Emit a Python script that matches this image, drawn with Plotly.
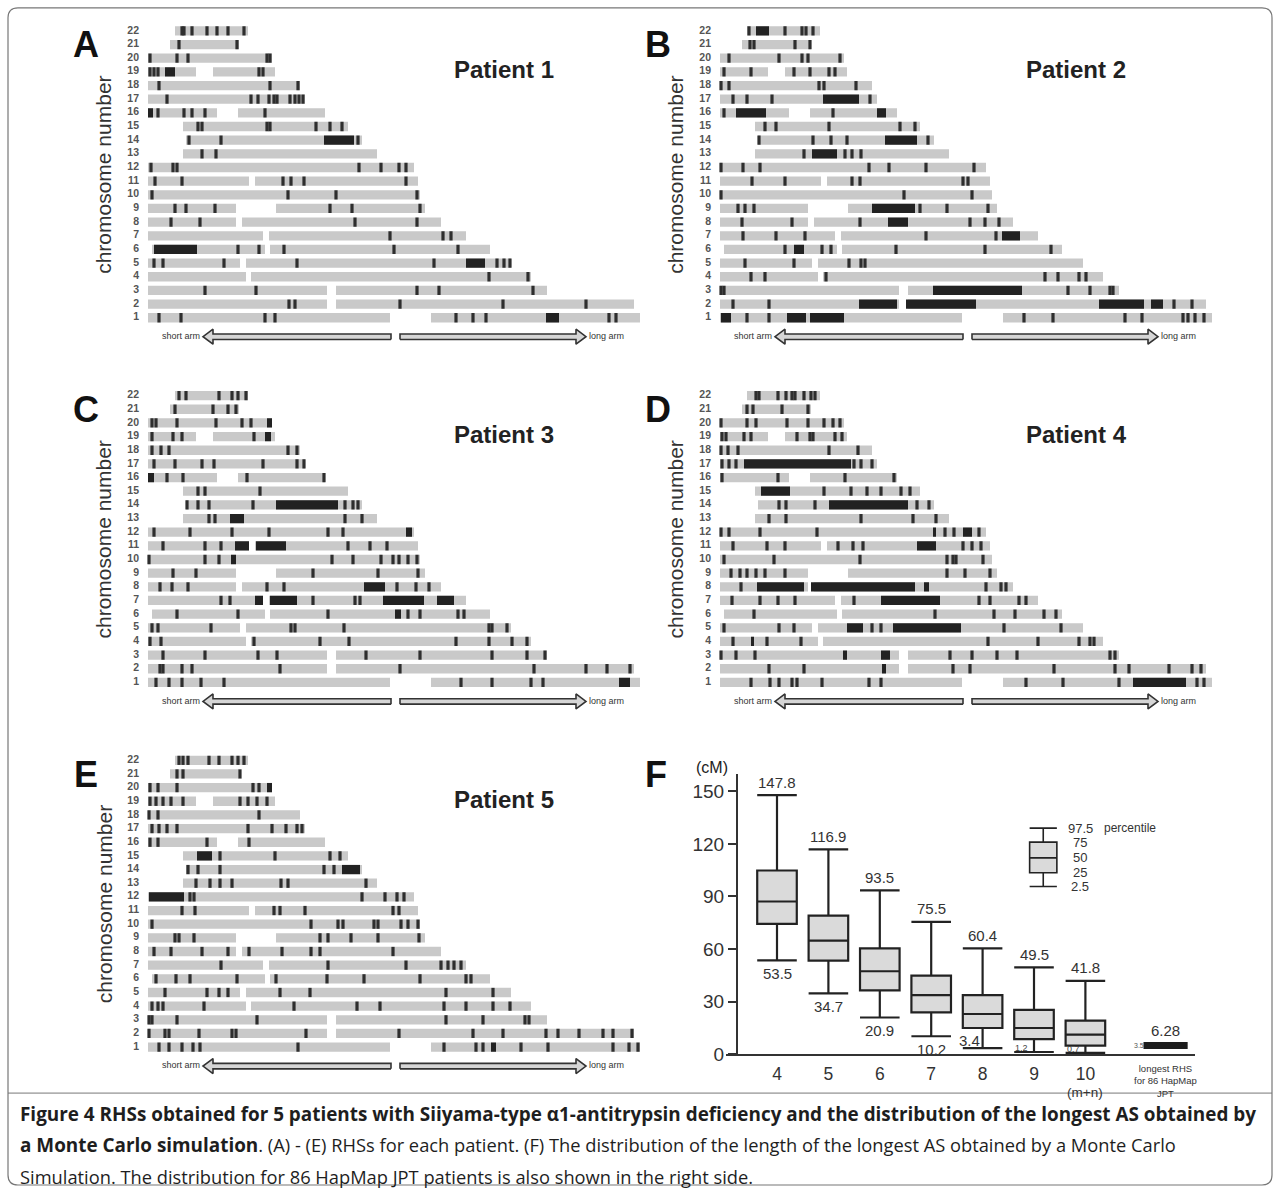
import plotly.graph_objects as go

W, H = 1280, 1197

# ---------------- chromosome map data (map units) ----------------
CHROMS = list(range(1, 23))
CHR_SEGMENTS = {
    1: [(0, 242), (283, 492)], 2: [(0, 179), (188, 486)], 3: [(0, 179), (188, 399)],
    4: [(0, 98), (103, 383)], 5: [(0, 92), (98, 363)], 6: [(4, 117), (122, 342)],
    7: [(0, 115), (121, 318)], 8: [(0, 88), (94, 293)], 9: [(0, 88), (128, 277)],
    10: [(0, 272)], 11: [(0, 101), (107, 270)], 12: [(0, 266)], 13: [(35, 229)],
    14: [(38, 214)], 15: [(35, 200)], 16: [(0, 69), (90, 177)], 17: [(0, 157)],
    18: [(0, 152)], 19: [(0, 48), (65, 127)], 20: [(0, 124)], 21: [(22, 91)],
    22: [(27, 100)],
}

P1_TICKS = {
    22: [34, 36, 44, 59, 69, 80, 96], 21: [31, 89], 20: [2, 29, 40, 119, 122],
    19: [2, 6, 10, 111, 115], 18: [11, 122, 150],
    17: [19, 103, 110, 121, 126, 129, 142, 147, 151, 155], 16: [10, 36, 44, 57, 117],
    15: [50, 54, 119, 122, 168, 182, 194], 14: [41, 73, 210], 13: [54, 68],
    12: [3, 25, 29, 211, 233, 251, 258], 11: [7, 34, 135, 143, 156, 258],
    10: [4, 140, 188, 269], 9: [27, 38, 67, 182, 204, 272], 8: [23, 52, 207, 269],
    7: [242, 295, 303], 6: [90, 111, 136, 246, 310], 5: [6, 15, 76, 149, 286, 349, 356, 362],
    4: [341, 380], 3: [57, 108, 269, 291, 385], 2: [141, 147, 252, 355, 438],
    1: [11, 33, 117, 127, 308, 325, 338, 461, 468],
}
P1_BLOCKS = [(19, 17, 27), (16, 0, 5), (14, 176, 206), (6, 6, 49), (5, 318, 337), (1, 398, 411)]

P2_TICKS = {
    22: [29, 65, 82, 86, 93], 21: [30, 34, 75, 90], 20: [9, 59, 82, 88, 120],
    19: [4, 31, 74, 90, 109, 115], 18: [1, 9, 99, 104, 136], 17: [13, 27, 52, 150],
    16: [4, 113], 15: [45, 56, 109, 180, 195], 14: [39, 93, 111, 127, 208],
    13: [84, 125, 132, 141], 12: [1, 23, 40, 149, 169, 206, 254],
    11: [32, 65, 132, 140, 243, 248], 10: [1, 184, 252], 9: [18, 25, 34, 200, 227, 268],
    8: [22, 72, 140, 250, 265, 279], 7: [23, 56, 85, 206, 276],
    6: [65, 102, 111, 176, 265, 331], 5: [25, 74, 129, 141, 145],
    4: [31, 45, 106, 325, 338, 359, 366], 3: [1, 4, 348, 370, 390, 393],
    2: [13, 49, 454, 472], 1: [27, 49, 304, 333, 405, 422, 463, 468, 475, 484],
}
P2_BLOCKS = [(22, 36, 49), (17, 103, 139), (16, 16, 46), (16, 157, 166), (14, 165, 197),
             (13, 92, 117), (9, 152, 195), (8, 168, 188), (7, 282, 300), (6, 74, 84),
             (3, 213, 302), (2, 139, 177), (2, 186, 256), (2, 379, 424), (2, 431, 443),
             (1, 1, 11), (1, 67, 86), (1, 90, 124)]

P3_TICKS = {
    22: [31, 38, 71, 84, 90, 98], 21: [27, 65, 80, 88], 20: [4, 8, 29, 68, 94, 103],
    19: [4, 25, 34, 106], 18: [4, 13, 21, 140, 149], 17: [6, 27, 54, 66, 115, 149, 156],
    16: [19, 35, 99, 176], 15: [50, 57, 112], 14: [39, 50, 61, 105, 197, 205, 210],
    13: [61, 67, 197, 214], 12: [6, 42, 84, 121, 180, 195], 11: [15, 57, 73, 200, 222, 239],
    10: [1, 57, 71, 184, 205, 233, 245, 251, 260, 269], 9: [25, 48, 165, 230, 270],
    8: [12, 24, 40, 119, 136, 249, 268, 281], 7: [73, 82, 165, 207, 212],
    6: [29, 90, 180, 260, 272, 310, 316], 5: [4, 10, 63, 143, 147, 196, 341, 344, 359],
    4: [2, 13, 106, 172, 201, 308, 341, 364, 379], 3: [15, 57, 110, 129, 218, 272, 344, 379, 397],
    2: [12, 15, 34, 44, 132, 252, 386, 438, 459, 482], 1: [8, 21, 34, 53, 76, 313, 344, 383, 395],
}
P3_BLOCKS = [(20, 119, 124), (19, 117, 123), (16, 0, 6), (14, 128, 190), (13, 82, 96),
             (12, 258, 264), (11, 87, 101), (11, 108, 138), (10, 83, 88), (8, 216, 237),
             (7, 107, 115), (7, 122, 149), (7, 235, 276), (7, 289, 306), (6, 247, 253),
             (1, 471, 482)]

P4_TICKS = {
    22: [36, 39, 58, 66, 72, 75, 84, 91, 95], 21: [27, 33, 62, 88],
    20: [1, 27, 36, 67, 88, 104, 113, 120], 19: [2, 6, 24, 31, 77, 90, 93, 115, 122],
    18: [1, 8, 18, 109, 138], 17: [2, 9, 16, 134, 141, 152], 16: [2, 58, 125, 174],
    15: [104, 131, 147, 161, 181, 190], 14: [59, 66, 95, 197, 209], 13: [49, 66, 141, 193, 216],
    12: [1, 9, 40, 97, 225, 234, 259], 11: [13, 47, 65, 118, 133, 143, 243, 252, 261],
    10: [4, 54, 140, 227, 233, 236, 263], 9: [11, 20, 27, 36, 45, 65, 227, 245, 270],
    8: [21, 266, 281, 286], 7: [12, 40, 58, 75, 134, 259, 270, 299, 306],
    6: [34, 215, 274, 295, 324, 336], 5: [4, 59, 74, 152, 161, 284, 341],
    4: [13, 47, 81, 268, 318, 359, 370, 374], 3: [1, 16, 35, 230, 252, 277, 297, 390, 395],
    2: [49, 84, 233, 250, 334, 395, 409, 449, 472, 481],
    1: [31, 50, 59, 72, 77, 102, 149, 161, 306, 343, 399, 477, 484],
}
P4_BLOCKS = [(17, 24, 131), (15, 41, 70), (14, 109, 188), (12, 213, 216), (12, 243, 252),
             (11, 197, 216), (8, 37, 84), (8, 91, 195), (8, 204, 209), (7, 161, 220),
             (5, 127, 143), (5, 173, 241), (4, 31, 34), (3, 123, 127), (3, 161, 170),
             (2, 162, 166), (1, 413, 466)]

P5_TICKS = {
    22: [31, 35, 40, 61, 71, 84, 90, 96], 21: [29, 35, 92], 20: [2, 10, 29, 105, 111],
    19: [2, 8, 15, 23, 35, 92, 100, 109, 119], 18: [1, 10, 111],
    17: [4, 11, 19, 29, 100, 124, 138, 149, 154], 16: [2, 10, 59, 101],
    15: [72, 127, 182, 192], 14: [40, 50, 72, 176, 186], 13: [48, 62, 72, 84, 133, 140, 218],
    12: [42, 46, 214, 237, 249, 256], 11: [34, 47, 126, 132, 157, 245, 251],
    10: [4, 163, 190, 195, 226, 230, 253, 260, 270], 9: [27, 31, 46, 172, 180, 203, 230, 271],
    8: [6, 23, 54, 80, 101, 134, 163, 172, 245], 7: [73, 180, 258, 293, 300, 306, 313],
    6: [8, 28, 42, 89, 128, 179, 216, 272, 318, 323], 5: [17, 59, 71, 80, 132, 162, 298, 345],
    4: [4, 10, 15, 56, 146, 209, 232, 296, 318, 345, 362], 3: [1, 4, 29, 109, 298, 335, 377, 381],
    2: [1, 17, 21, 51, 84, 88, 158, 251, 325, 355, 398, 410, 431, 455, 465, 484],
    1: [11, 21, 34, 45, 52, 150, 296, 328, 335, 373, 400, 465, 481, 490],
}
P5_BLOCKS = [(20, 119, 124), (15, 49, 64), (14, 194, 212), (12, 1, 36), (1, 343, 348)]

PATIENT_NAMES = ["Patient 1", "Patient 2", "Patient 3", "Patient 4", "Patient 5"]
PATIENT_TICKS = [P1_TICKS, P2_TICKS, P3_TICKS, P4_TICKS, P5_TICKS]
PATIENT_BLOCKS = [P1_BLOCKS, P2_BLOCKS, P3_BLOCKS, P4_BLOCKS, P5_BLOCKS]
PANEL_LETTERS = ["A", "B", "C", "D", "E"]

# arms arrows (map units)
SHORT_ARM_SPAN = (55, 243)
LONG_ARM_SPAN = (252, 438)

# ---------------- panel F data ----------------
F_CATS = [4, 5, 6, 7, 8, 9, 10]
F_LOWER = [53.5, 34.7, 20.9, 10.2, 3.4, 1.2, 0.7]
F_Q1 = [74.3, 53.4, 36.4, 23.8, 14.9, 8.6, 4.8]
F_MED = [87.1, 64.8, 47.3, 33.7, 22.9, 14.9, 11.1]
F_Q3 = [104.8, 79.1, 60.4, 44.8, 33.7, 25.3, 19.1]
F_UPPER = [147.8, 116.9, 93.5, 75.5, 60.4, 49.5, 41.8]
HAPMAP_X = 11.56
HAPMAP_STATS = [3.5, 3.5, 5.0, 6.28, 6.28]  # lower, q1, median, q3, upper
LEGEND_X = 9.18
LEGEND_STATS = [95.7, 103.5, 112.0, 121.0, 129.0]
LEGEND_LABELS = ["2.5", "25", "50", "75", "97.5"]
F_YTICKS = [0, 30, 60, 90, 120, 150]

# ---------------- layout helpers ----------------
SY = 1197 / 1187.0   # vertical calibration of measured pixel positions


def Y(p):
    return p * SY


PANEL_ORIGIN = [(148, Y(318)), (720, Y(318)), (148, Y(683)), (720, Y(683)), (148, Y(1048))]
ROW_PX = 13.67 * SY
X_LEFT, X_RIGHT = -55, 515
Y_LOW, Y_HIGH = -1.2, 23.0
TICK_W = 3.2
BAR_H = 0.68
ARROW_C = -0.39
GRAY = "#c9c9c9"
DARK = "#222222"


def fx(p):
    return p / W


def fy(p):
    return 1 - p / H


def paper_note(xp, yp, text, font, **kw):
    d = dict(x=fx(xp), y=fy(yp), xref="paper", yref="paper", text=text, showarrow=False,
             xanchor="center", yanchor="middle", font=font)
    d.update(kw)
    return d


fig = go.Figure()
layout_axes = {}
annotations = []

for i in range(5):
    n = i + 1
    xa = "x" if n == 1 else f"x{n}"
    ya = "y" if n == 1 else f"y{n}"
    px0, py1 = PANEL_ORIGIN[i]
    bottom_px = py1 + (1 - Y_LOW) * ROW_PX
    top_px = bottom_px - (Y_HIGH - Y_LOW) * ROW_PX
    layout_axes["xaxis" if n == 1 else f"xaxis{n}"] = dict(
        domain=[fx(px0 + X_LEFT), fx(px0 + X_RIGHT)], range=[X_LEFT, X_RIGHT],
        visible=False, anchor=ya, fixedrange=True)
    layout_axes["yaxis" if n == 1 else f"yaxis{n}"] = dict(
        domain=[fy(bottom_px), fy(top_px)], range=[Y_LOW, Y_HIGH],
        visible=False, anchor=xa, fixedrange=True)

    # gray chromosome arms
    gy, gb, gl = [], [], []
    for c in CHROMS:
        for s, e in CHR_SEGMENTS[c]:
            gy.append(c); gb.append(s); gl.append(e - s)
    fig.add_trace(go.Bar(orientation="h", y=gy, base=gb, x=gl, width=BAR_H,
                         marker=dict(color=GRAY, line=dict(width=0)),
                         xaxis=xa, yaxis=ya, showlegend=False, hoverinfo="skip"))
    # thin marks
    ty, tb, tl = [], [], []
    for c, plist in PATIENT_TICKS[i].items():
        for p in plist:
            ty.append(c); tb.append(p - TICK_W / 2); tl.append(TICK_W)
    fig.add_trace(go.Bar(orientation="h", y=ty, base=tb, x=tl, width=BAR_H,
                         marker=dict(color="#2e2e2e", line=dict(width=0)),
                         xaxis=xa, yaxis=ya, showlegend=False, hoverinfo="skip"))
    # homozygous blocks
    by = [b[0] for b in PATIENT_BLOCKS[i]]
    bb = [b[1] for b in PATIENT_BLOCKS[i]]
    bl = [b[2] - b[1] for b in PATIENT_BLOCKS[i]]
    fig.add_trace(go.Bar(orientation="h", y=by, base=bb, x=bl, width=BAR_H,
                         marker=dict(color=DARK, line=dict(width=0)),
                         xaxis=xa, yaxis=ya, showlegend=False, hoverinfo="skip"))
    # row labels
    fig.add_trace(go.Scatter(x=[-9] * 22, y=CHROMS, mode="text", text=[f"<b>{c}</b>" for c in CHROMS],
                             textposition="middle left",
                             textfont=dict(family="Liberation Sans Narrow, Arial", size=10.5, color="#555"),
                             xaxis=xa, yaxis=ya, showlegend=False, hoverinfo="skip"))
    # arrows
    h, Hh, hl = 0.2, 0.55, 10
    t0, t1 = SHORT_ARM_SPAN
    fig.add_trace(go.Scatter(
        x=[t1, t0 + hl, t0 + hl, t0, t0 + hl, t0 + hl, t1, t1],
        y=[ARROW_C - h, ARROW_C - h, ARROW_C - Hh, ARROW_C, ARROW_C + Hh, ARROW_C + h, ARROW_C + h, ARROW_C - h],
        mode="lines", fill="toself", fillcolor="#d6d6d6", line=dict(color="#333", width=1.6),
        xaxis=xa, yaxis=ya, showlegend=False, hoverinfo="skip"))
    l0, l1 = LONG_ARM_SPAN
    fig.add_trace(go.Scatter(
        x=[l0, l1 - hl, l1 - hl, l1, l1 - hl, l1 - hl, l0, l0],
        y=[ARROW_C - h, ARROW_C - h, ARROW_C - Hh, ARROW_C, ARROW_C + Hh, ARROW_C + h, ARROW_C + h, ARROW_C - h],
        mode="lines", fill="toself", fillcolor="#d6d6d6", line=dict(color="#333", width=1.6),
        xaxis=xa, yaxis=ya, showlegend=False, hoverinfo="skip"))
    fig.add_trace(go.Scatter(x=[t0 - 3, l1 + 3], y=[ARROW_C, ARROW_C], mode="text",
                             text=["short arm", "long arm"], textposition=["middle left", "middle right"],
                             textfont=dict(family="Liberation Sans Narrow, Arial", size=9, color="#333"),
                             xaxis=xa, yaxis=ya, showlegend=False, hoverinfo="skip"))

    # panel letter, patient title, y title
    annotations.append(paper_note(px0 - 62, py1 - Y(273), f"<b>{PANEL_LETTERS[i]}</b>",
                                  dict(family="Arial", size=36, color="#111")))
    annotations.append(paper_note(px0 + 356, py1 - Y(248), f"<b>{PATIENT_NAMES[i]}</b>",
                                  dict(family="Arial", size=24, color="#222")))
    annotations.append(paper_note(px0 - 44, py1 - Y(143), "chromosome number",
                                  dict(family="Arial", size=21, color="#333"), textangle=-90))

# ---------------- panel F ----------------
F_LEFT_PX, F_RIGHT_PX = 726, 1195
F_ZERO_PX = Y(1055)
F_PX_PER_UNIT = (Y(1055) - Y(792)) / 150.0
F_TOP_PX = F_ZERO_PX - 160 * F_PX_PER_UNIT
X4_PX, XUNIT_PX = 777, 51.4
f_xr = [4 - (X4_PX - F_LEFT_PX) / XUNIT_PX, 4 + (F_RIGHT_PX - X4_PX) / XUNIT_PX]
layout_axes["xaxis6"] = dict(domain=[fx(F_LEFT_PX), fx(F_RIGHT_PX)], range=f_xr, anchor="y6",
                             showline=True, linecolor="#333", linewidth=2, showgrid=False,
                             zeroline=False, tickvals=F_CATS, ticktext=[str(c) for c in F_CATS],
                             ticks="", ticklabelstandoff=3,
                             tickfont=dict(family="Arial", size=17.5, color="#333"), fixedrange=True)
layout_axes["yaxis6"] = dict(domain=[fy(F_ZERO_PX), fy(F_TOP_PX)], range=[0, 160], anchor="free",
                             position=fx(737),
                             showline=True, linecolor="#333", linewidth=2, showgrid=False,
                             zeroline=False, tickvals=F_YTICKS, ticks="outside", ticklen=8,
                             tickwidth=2, tickcolor="#333",
                             tickfont=dict(family="Arial", size=19, color="#333"), fixedrange=True)

box_line = dict(color="#222", width=2.2)
fig.add_trace(go.Box(x=F_CATS, q1=F_Q1, median=F_MED, q3=F_Q3, lowerfence=F_LOWER,
                     upperfence=F_UPPER, width=0.77, whiskerwidth=1, fillcolor="#dadada",
                     line=box_line, boxpoints=False, xaxis="x6", yaxis="y6", showlegend=False,
                     hoverinfo="skip"))
fig.add_trace(go.Box(x=[HAPMAP_X], lowerfence=[HAPMAP_STATS[0]], q1=[HAPMAP_STATS[1]],
                     median=[HAPMAP_STATS[2]], q3=[HAPMAP_STATS[3]], upperfence=[HAPMAP_STATS[4]],
                     width=0.82, whiskerwidth=1, fillcolor="#1c1c1c", line=dict(color="#1c1c1c", width=2),
                     boxpoints=False, xaxis="x6", yaxis="y6", showlegend=False, hoverinfo="skip"))
fig.add_trace(go.Box(x=[LEGEND_X], lowerfence=[LEGEND_STATS[0]], q1=[LEGEND_STATS[1]],
                     median=[LEGEND_STATS[2]], q3=[LEGEND_STATS[3]], upperfence=[LEGEND_STATS[4]],
                     width=0.53, whiskerwidth=1, fillcolor="#dadada", line=dict(color="#222", width=1.6),
                     boxpoints=False, xaxis="x6", yaxis="y6", showlegend=False, hoverinfo="skip"))

vfont = dict(family="Arial", size=15, color="#333")
for c, lo, up in zip(F_CATS, F_LOWER, F_UPPER):
    annotations.append(dict(x=c, y=up, xref="x6", yref="y6", text=f"{up}", showarrow=False,
                            yshift=13, font=vfont))
    if c <= 7:
        annotations.append(dict(x=c, y=lo, xref="x6", yref="y6", text=f"{lo}", showarrow=False,
                                yshift=-13, font=vfont))
    elif c == 8:
        annotations.append(dict(x=c - 0.25, y=lo, xref="x6", yref="y6", text=f"{lo}", showarrow=False,
                                yshift=8, font=vfont))
    else:
        annotations.append(dict(x=c - 0.24, y=lo, xref="x6", yref="y6", text=f"{lo}", showarrow=False,
                                yshift=4, font=dict(family="Arial", size=9, color="#444")))
annotations.append(dict(x=HAPMAP_X, y=HAPMAP_STATS[4], xref="x6", yref="y6", text="6.28",
                        showarrow=False, yshift=13, font=vfont))
annotations.append(dict(x=HAPMAP_X - 0.52, y=HAPMAP_STATS[1], xref="x6", yref="y6",
                        text=f"{HAPMAP_STATS[1]}", showarrow=False, yshift=2,
                        font=dict(family="Arial", size=7, color="#555")))
for v, lab in zip(LEGEND_STATS, LEGEND_LABELS):
    annotations.append(dict(x=LEGEND_X + 0.72, y=v, xref="x6", yref="y6", text=lab,
                            showarrow=False, font=dict(family="Arial", size=13, color="#333")))
annotations.append(dict(x=LEGEND_X + 1.68, y=LEGEND_STATS[4], xref="x6", yref="y6", text="percentile",
                        showarrow=False, font=dict(family="Arial", size=12, color="#333")))
annotations.append(dict(x=10, y=0, xref="x6", yref="y6", text="(m+n)", showarrow=False,
                        yshift=-38, font=dict(family="Arial", size=13.5, color="#333")))
annotations.append(dict(x=HAPMAP_X, y=0, xref="x6", yref="y6",
                        text="longest RHS<br>for 86 HapMap<br>JPT", showarrow=False, yshift=-27,
                        font=dict(family="Arial", size=9.5, color="#333")))
annotations.append(paper_note(712, Y(768), "(cM)", dict(family="Arial", size=16, color="#222")))
annotations.append(paper_note(656, Y(775), "<b>F</b>", dict(family="Arial", size=36, color="#111")))

# ---------------- caption ----------------
BOLD = "<span style='font-size:18.9px'><b>{}</b></span>"
CAPTION = [
    BOLD.format("Figure 4 RHSs obtained for 5 patients with Siiyama-type α1-antitrypsin deficiency and the distribution of the longest AS obtained by"),
    BOLD.format("a Monte Carlo simulation") + ". (A) - (E) RHSs for each patient. (F) The distribution of the length of the longest AS obtained by a Monte Carlo",
    "Simulation. The distribution for 86 HapMap JPT patients is also shown in the right side.",
]
for k, line in enumerate(CAPTION):
    annotations.append(paper_note(18, Y(1115 + 31 * k), line,
                                  dict(family="Open Sans", size=18.3, color="#1e1e1e"),
                                  xanchor="left"))

# frame
r = 10
x0, x1, y0, y1 = 8, 1272, 8, 1196
frame_path = (f"M {x0 + r},{y0} L {x1 - r},{y0} Q {x1},{y0} {x1},{y0 + r} L {x1},{y1 - r} "
              f"Q {x1},{y1} {x1 - r},{y1} L {x0 + r},{y1} Q {x0},{y1} {x0},{y1 - r} "
              f"L {x0},{y0 + r} Q {x0},{y0} {x0 + r},{y0} Z")


def to_paper_path(path):
    out = []
    for tok in path.split(" "):
        if "," in tok:
            a, b = tok.split(",")
            out.append(f"{float(a) / W:.5f},{1 - float(b) / H:.5f}")
        else:
            out.append(tok)
    return " ".join(out)


shapes = [
    dict(type="path", xref="paper", yref="paper", path=to_paper_path(frame_path),
         line=dict(color="#777", width=1.2)),
    dict(type="line", xref="paper", yref="paper", x0=fx(8), x1=fx(1272), y0=fy(Y(1094)), y1=fy(Y(1094)),
         line=dict(color="#777", width=1)),
]

fig.update_layout(width=W, height=H, margin=dict(l=0, r=0, t=0, b=0),
                  paper_bgcolor="white", plot_bgcolor="rgba(0,0,0,0)",
                  barmode="overlay", showlegend=False, annotations=annotations, shapes=shapes,
                  **layout_axes)
fig.write_html("out.html", config={"displayModeBar": False},
               post_script="document.body.style.margin='0px';document.body.style.padding='0px';"
                           "document.body.style.overflow='hidden';")
